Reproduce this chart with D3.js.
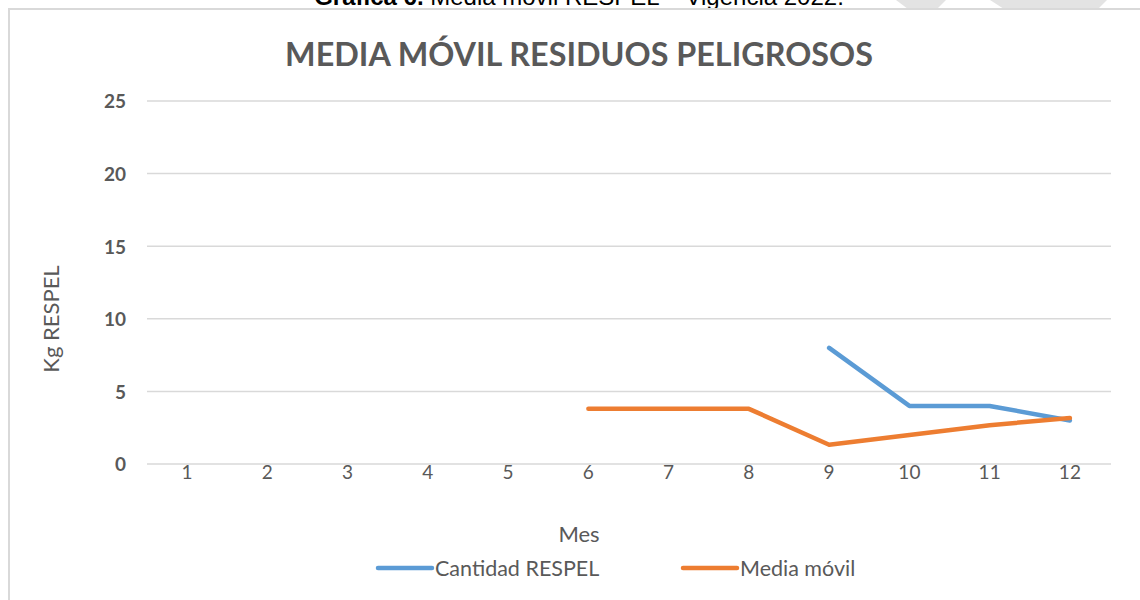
<!DOCTYPE html>
<html>
<head>
<meta charset="utf-8">
<script src="https://cdn.jsdelivr.net/npm/d3@7"></script>
<style>
  html, body { margin: 0; padding: 0; background: #fff; overflow: hidden; }
  svg { display: block; }
</style>
</head>
<body>
<svg id="chart" width="1140" height="600"></svg>
<script>
// Months on the x axis
const months = ["1", "2", "3", "4", "5", "6", "7", "8", "9", "10", "11", "12"];
// Kg of hazardous waste per month (blank months are null)
const cantidadRespel = [null, null, null, null, null, null, null, null, 8, 4, 4, 3];
// Moving average of the monthly quantity
const mediaMovil = [null, null, null, null, null, 3.8, 3.8, 3.8, 1.33, 2, 2.67, 3.17];
// Y axis ticks
const yTicks = [0, 5, 10, 15, 20, 25];

const series = [
  { name: "Cantidad RESPEL", values: cantidadRespel, color: "#5B9BD5" },
  { name: "Media móvil", values: mediaMovil, color: "#ED7D31" }
];

const svg = d3.select("#chart");
const W = 1140, H = 600;
const plot = { left: 147, right: 1110, top: 101, bottom: 464 };
const textGray = "#595959";
const gridGray = "#d9d9d9";
const chartFont = "Lato, Carlito, Calibri, sans-serif";

// Document caption above the chart frame
const cap = svg.append("text")
  .attr("x", 579).attr("y", 5)
  .attr("text-anchor", "middle")
  .attr("font-family", "Liberation Sans, Arial, sans-serif")
  .attr("font-size", 24)
  .attr("fill", "#000");
cap.append("tspan").attr("font-weight", "bold").text("Gráfica 6.");
cap.append("tspan").text(" Media móvil RESPEL – Vigencia 2022.");

// Faint page watermark at the top edge
const wm = svg.append("g").attr("fill", "#e3e3e3");
wm.append("polygon").attr("points", "896,0 946,0 937,9 908,9");
wm.append("polygon").attr("points", "990,0 1107,0 1098,9 1004,9");

// Chart frame
svg.append("rect")
  .attr("x", 9).attr("y", 9)
  .attr("width", W + 20).attr("height", H + 20)
  .attr("fill", "#fff")
  .attr("stroke", gridGray).attr("stroke-width", 2);

// Scales
const x = d3.scaleBand().domain(months).range([plot.left, plot.right]);
const y = d3.scaleLinear().domain([0, 25]).range([plot.bottom, plot.top]);

// Gridlines
svg.append("g").selectAll("line").data(yTicks).join("line")
  .attr("x1", plot.left).attr("x2", plot.right + 1)
  .attr("y1", d => y(d)).attr("y2", d => y(d))
  .attr("stroke", gridGray).attr("stroke-width", 1.5);

// Y axis labels
const yAxis = svg.append("g")
  .attr("transform", `translate(${plot.left - 21},0)`)
  .call(d3.axisLeft(y).tickValues(yTicks).tickSize(0).tickPadding(0));
yAxis.select(".domain").remove();
yAxis.selectAll("text")
  .attr("font-family", chartFont)
  .attr("font-weight", "bold")
  .attr("font-size", 19)
  .attr("fill", textGray)
  .attr("dy", "0.36em");

// X axis labels
const xAxis = svg.append("g")
  .attr("transform", `translate(0,${plot.bottom})`)
  .call(d3.axisBottom(x).tickSize(0).tickPadding(0));
xAxis.select(".domain").remove();
xAxis.selectAll("text")
  .attr("font-family", chartFont)
  .attr("font-size", 19)
  .attr("fill", textGray)
  .attr("y", 8)
  .attr("dy", "0.36em");

// Series lines
const line = d3.line()
  .defined(d => d != null)
  .x((d, i) => x(months[i]) + x.bandwidth() / 2)
  .y(d => y(d));

svg.append("g").selectAll("path").data(series).join("path")
  .attr("d", s => line(s.values))
  .attr("fill", "none")
  .attr("stroke", s => s.color)
  .attr("stroke-width", 4.5)
  .attr("stroke-linecap", "round")
  .attr("stroke-linejoin", "round");

// Chart title, fitted to its width
const title = svg.append("text")
  .attr("x", 579).attr("y", 66)
  .attr("text-anchor", "middle")
  .attr("font-family", chartFont)
  .attr("font-weight", "bold")
  .attr("font-size", 100)
  .attr("fill", textGray)
  .text("MEDIA MÓVIL RESIDUOS PELIGROSOS");
const tw = title.node().getComputedTextLength();
title.attr("font-size", 100 * 588 / tw);

// Axis titles
svg.append("text")
  .attr("x", 579).attr("y", 542)
  .attr("text-anchor", "middle")
  .attr("font-family", chartFont)
  .attr("font-size", 22)
  .attr("fill", textGray)
  .text("Mes");

svg.append("text")
  .attr("transform", "translate(59,319) rotate(-90)")
  .attr("text-anchor", "middle")
  .attr("font-family", chartFont)
  .attr("font-size", 22)
  .attr("fill", textGray)
  .text("Kg RESPEL");

// Legend
const legendX = [378, 683];
const legend = svg.append("g").selectAll("g").data(series).join("g")
  .attr("transform", (d, i) => `translate(${legendX[i]},568)`);
legend.append("line")
  .attr("x1", 0).attr("x2", 54)
  .attr("stroke", d => d.color)
  .attr("stroke-width", 4.5)
  .attr("stroke-linecap", "round");
legend.append("text")
  .attr("x", 57).attr("dy", "0.35em")
  .attr("font-family", chartFont)
  .attr("font-size", 21.5)
  .attr("fill", textGray)
  .text(d => d.name);
</script>
</body>
</html>
